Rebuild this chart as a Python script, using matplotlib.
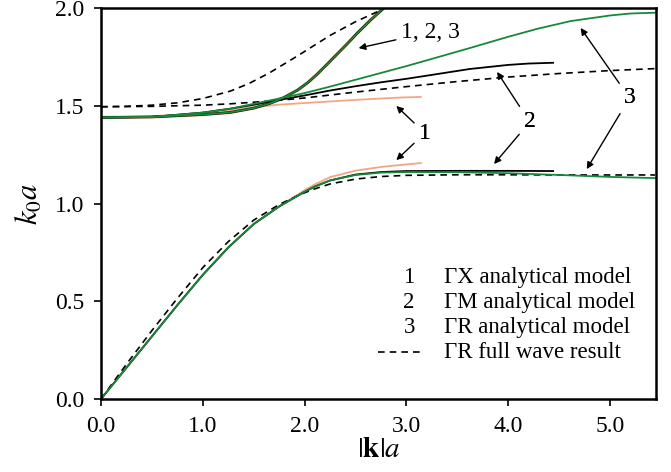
import matplotlib
matplotlib.use("Agg")
import matplotlib.pyplot as plt

plt.rcParams['font.family'] = ['Liberation Serif', 'DejaVu Serif']
plt.rcParams['mathtext.fontset'] = 'stix'

# ---- data ----
# lower band
low_x_gx = [0, 0.25, 0.5, 0.75, 1.0, 1.25, 1.5, 1.75, 1.9, 2.0, 2.1, 2.25, 2.5, 2.75, 3.0, 3.14]
low_y_gx = [0, 0.16, 0.32, 0.48, 0.635, 0.775, 0.895, 0.985, 1.035, 1.068, 1.098, 1.135, 1.168, 1.187, 1.2, 1.207]
low_x_gm = [0, 0.25, 0.5, 0.75, 1.0, 1.25, 1.5, 1.75, 1.9, 2.0, 2.1, 2.25, 2.5, 2.75, 3.0, 3.5, 4.0, 4.44]
low_y_gm = [0, 0.16, 0.32, 0.48, 0.635, 0.775, 0.895, 0.985, 1.03, 1.06, 1.087, 1.118, 1.148, 1.161, 1.166, 1.167, 1.167, 1.166]
low_x_gr = [0, 0.25, 0.5, 0.75, 1.0, 1.25, 1.5, 1.75, 1.9, 2.0, 2.1, 2.25, 2.5, 2.75, 3.0, 3.5, 4.0, 4.5, 5.0, 5.44]
low_y_gr = [0, 0.16, 0.32, 0.48, 0.635, 0.775, 0.895, 0.985, 1.03, 1.06, 1.087, 1.118, 1.146, 1.158, 1.161, 1.16, 1.155, 1.146, 1.136, 1.13]
low_x_fw = [0, 0.25, 0.5, 0.75, 1.0, 1.25, 1.5, 1.75, 1.9, 2.0, 2.1, 2.25, 2.5, 2.75, 3.0, 3.5, 4.0, 4.5, 5.0, 5.44]
low_y_fw = [0, 0.178, 0.35, 0.515, 0.672, 0.805, 0.915, 0.995, 1.032, 1.055, 1.075, 1.1, 1.125, 1.138, 1.144, 1.147, 1.147, 1.146, 1.146, 1.146]

# upper band, steep branch (shared by the three analytical models)
up_x_steep = [0, 0.5, 1.0, 1.27, 1.5, 1.65, 1.8, 1.93, 2.03, 2.12, 2.22, 2.32, 2.42, 2.51, 2.65, 2.8]
up_y_steep = [1.44, 1.443, 1.455, 1.466, 1.488, 1.51, 1.543, 1.58, 1.618, 1.66, 1.712, 1.765, 1.818, 1.868, 1.94, 2.01]
# upper band, flat branches
up_x_gx = [0, 0.5, 1.0, 1.27, 1.5, 1.73, 2.0, 2.25, 2.5, 2.75, 2.94, 3.14]
up_y_gx = [1.44, 1.443, 1.458, 1.477, 1.493, 1.505, 1.514, 1.522, 1.53, 1.537, 1.542, 1.545]
up_x_gm = [0, 0.5, 1.0, 1.27, 1.5, 1.73, 2.0, 2.25, 2.5, 2.75, 3.0, 3.25, 3.62, 4.0, 4.2, 4.44]
up_y_gm = [1.44, 1.443, 1.465, 1.485, 1.505, 1.528, 1.553, 1.578, 1.60, 1.62, 1.638, 1.658, 1.688, 1.709, 1.716, 1.72]
up_x_gr = [0, 0.5, 1.0, 1.27, 1.5, 1.73, 2.0, 2.25, 2.5, 2.75, 3.0, 3.25, 3.62, 4.0, 4.28, 4.61, 5.0, 5.2, 5.44]
up_y_gr = [1.44, 1.443, 1.465, 1.485, 1.51, 1.535, 1.565, 1.598, 1.633, 1.668, 1.703, 1.74, 1.795, 1.853, 1.893, 1.933, 1.962, 1.972, 1.976]
# full wave, upper band
up_x_fw_flat = [0, 0.5, 1.0, 1.27, 1.5, 1.73, 2.0, 2.25, 2.5, 2.75, 3.0, 3.5, 4.0, 4.5, 5.0, 5.44]
up_y_fw_flat = [1.495, 1.497, 1.503, 1.51, 1.518, 1.527, 1.54, 1.555, 1.57, 1.584, 1.598, 1.624, 1.647, 1.665, 1.68, 1.69]
up_x_fw_steep = [0, 0.25, 0.5, 0.75, 1.0, 1.27, 1.45, 1.65, 1.93, 2.25, 2.5, 2.71, 2.8]
up_y_fw_steep = [1.495, 1.497, 1.503, 1.515, 1.537, 1.575, 1.613, 1.667, 1.755, 1.86, 1.93, 1.98, 2.005]

legend_nums = ['1', '2', '3']
legend_labels = ['ΓX analytical model', 'ΓM analytical model', 'ΓR analytical model', 'ΓR full wave result']
x_ticks = [0, 1, 2, 3, 4, 5]
x_ticklabels = ['0.0', '1.0', '2.0', '3.0', '4.0', '5.0']
y_ticks = [0, 0.5, 1.0, 1.5, 2.0]
y_ticklabels = ['0.0', '0.5', '1.0', '1.5', '2.0']

# ---- styles ----
C_GX = '#f4a582'
C_GM = '#000000'
C_GR = '#15893c'
DASH = (0, (4, 3))

fig = plt.figure(figsize=(6.71, 4.72), dpi=100)
ax = fig.add_axes([0.1505, 0.1547, 0.8271, 0.8283])

# ΓX
ax.plot(low_x_gx, low_y_gx, color=C_GX, lw=1.3)
ax.plot(up_x_gx, up_y_gx, color=C_GX, lw=1.3)
ax.plot(up_x_steep, up_y_steep, color=C_GX, lw=2.4)
# ΓM
ax.plot(low_x_gm, low_y_gm, color=C_GM, lw=1.3)
ax.plot(up_x_gm, up_y_gm, color=C_GM, lw=1.3)
ax.plot(up_x_steep, up_y_steep, color=C_GM, lw=1.8)
# full wave
ax.plot(low_x_fw, low_y_fw, color='black', lw=1.2, ls=DASH)
ax.plot(up_x_fw_flat, up_y_fw_flat, color='black', lw=1.2, ls=DASH)
ax.plot(up_x_fw_steep, up_y_fw_steep, color='black', lw=1.2, ls=DASH)
# ΓR
ax.plot(low_x_gr, low_y_gr, color=C_GR, lw=1.3)
ax.plot(up_x_gr, up_y_gr, color=C_GR, lw=1.3)
ax.plot(up_x_steep, up_y_steep, color=C_GR, lw=1.3)

ax.set_xlim(0, 5.45)
ax.set_ylim(0, 2.0)
ax.set_xticks(x_ticks)
ax.set_xticklabels(x_ticklabels)
ax.set_yticks(y_ticks)
ax.set_yticklabels(y_ticklabels)
ax.tick_params(axis='both', direction='out', length=5, width=1.2, labelsize=17,
               top=False, right=False)
ax.tick_params(axis='x', pad=7)
ax.tick_params(axis='y', pad=7)
for s in ax.spines.values():
    s.set_linewidth(1.8)

ax.set_xlabel(r'$|\mathbf{k}|a$', fontsize=21, labelpad=0)
ax.set_ylabel(r'$k_{\mathit{0}}a$', fontsize=22, labelpad=7)

# annotations
arrowprops = dict(arrowstyle='-|>', color='black', lw=1.0, mutation_scale=10,
                  shrinkA=2, shrinkB=0)
fs_ann = 17
ax.annotate('1, 2, 3', xy=(2.53, 1.795), xytext=(2.95, 1.877), fontsize=fs_ann,
            ha='left', va='center', arrowprops=arrowprops)
for tip in [(2.90, 1.499), (2.90, 1.222)]:
    ax.annotate('1', xy=tip, xytext=(3.18, 1.36), fontsize=fs_ann,
                ha='center', va='center', arrowprops=arrowprops)
for tip in [(3.89, 1.673), (3.86, 1.202)]:
    ax.annotate('2', xy=tip, xytext=(4.21, 1.417), fontsize=fs_ann,
                ha='center', va='center', arrowprops=arrowprops)
for tip in [(4.71, 1.898), (4.77, 1.176)]:
    ax.annotate('3', xy=tip, xytext=(5.19, 1.54), fontsize=fs_ann,
                ha='center', va='center', arrowprops=arrowprops)

# legend (drawn as text)
leg_rows = [0.619, 0.496, 0.368, 0.240]
fs_leg = 16.5
for i, n in enumerate(legend_nums):
    ax.text(3.026, leg_rows[i], n, fontsize=fs_leg, ha='center', va='center')
for i, lab in enumerate(legend_labels):
    ax.text(3.37, leg_rows[i], lab, fontsize=fs_leg, ha='left', va='center')
ax.plot([2.72, 3.16], [leg_rows[3], leg_rows[3]], color='black', lw=1.2, ls=DASH)

fig.savefig('out.png', dpi=100)
